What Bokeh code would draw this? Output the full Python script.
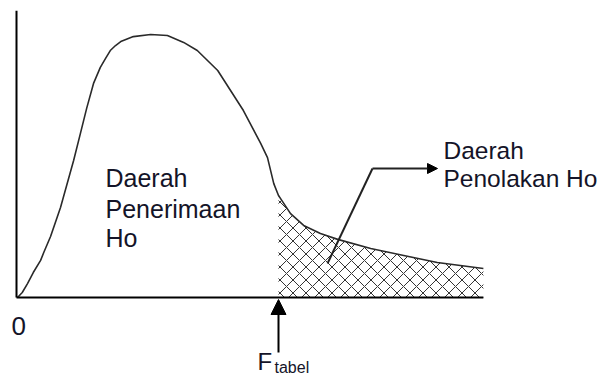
from bokeh.plotting import figure
from bokeh.models import Range1d, Arrow, NormalHead, ColumnDataSource
from bokeh.core.properties import value
from bokeh.embed import file_html
from bokeh.resources import INLINE

# ---- data (F value, density) ----
f_x = [0.02, 0.11, 0.21, 0.32, 0.46, 0.52, 0.65, 0.84, 1.09, 1.22, 1.34, 1.47,
       1.60, 1.70, 1.79, 1.89, 1.99, 2.23, 2.56, 2.88, 3.19, 3.45, 3.84, 4.33,
       4.66, 4.79, 4.91, 5.00, 5.04, 5.23, 5.48, 5.80, 6.13, 6.76, 7.39, 8.03,
       8.91]
f_y = [0.000, 0.019, 0.053, 0.095, 0.141, 0.171, 0.232, 0.342, 0.521, 0.624,
       0.720, 0.814, 0.875, 0.909, 0.939, 0.958, 0.973, 0.992, 1.000, 0.996,
       0.970, 0.939, 0.863, 0.711, 0.586, 0.532, 0.433, 0.388, 0.376, 0.319,
       0.274, 0.243, 0.221, 0.186, 0.160, 0.133, 0.110]
f_tabel = 5.0
axis_top = 1.09
labels_accept = ["Daerah", "Penerimaan", "Ho"]
labels_reject = ["Daerah", "Penolakan Ho"]
zero_label = "0"
f_label = ["F", "tabel"]

# ---- layout helpers (pixel scale of the drawing) ----
PXX, PXY = 52.4, 263.0
OX, OY = 16.0, 297.0  # pixel position of the data origin


def px(xp, yp):
    """pixel -> data coords (for label placement only)"""
    return ((xp - OX) / PXX, (OY - yp) / PXY)


W, H = 603, 376
p = figure(width=W, height=H, output_backend="svg", toolbar_location=None,
           x_range=Range1d(-OX / PXX, (W - OX) / PXX),
           y_range=Range1d(-(H - OY) / PXY, OY / PXY),
           x_axis_type=None, y_axis_type=None, min_border=0,
           outline_line_color=None, background_fill_color="white")
p.xgrid.visible = False
p.ygrid.visible = False

# hatched rejection region
tx = [x for x in f_x if x >= f_tabel]
ty = [y for x, y in zip(f_x, f_y) if x >= f_tabel]
p.varea(x=tx, y1=[0] * len(tx), y2=ty, fill_color=None, fill_alpha=0,
        hatch_pattern="diagonal_cross", hatch_scale=13, hatch_weight=1,
        hatch_color="#333333")

# density curve
p.line(f_x, f_y, line_color="#2a2a2a", line_width=1.6, line_join="round")

# axes
p.line([0, 0], [0, axis_top], line_color="black", line_width=2)
p.line([0, f_x[-1]], [0, 0], line_color="black", line_width=2)

# F tabel arrow
ys, ye = px(0, 352)[1], px(0, 299)[1]
p.add_layout(Arrow(end=NormalHead(size=15, fill_color="black", line_color="black"),
                   x_start=f_tabel, y_start=ys, x_end=f_tabel, y_end=ye,
                   line_color="black", line_width=2))

# pointer arrow to rejection label
a0, a1, a2 = px(327, 263), px(372, 168), px(437, 168)
p.line([a0[0], a1[0]], [a0[1], a1[1]], line_color="#222222", line_width=2)
p.add_layout(Arrow(end=NormalHead(size=10, fill_color="black", line_color="black"),
                   x_start=a1[0], y_start=a1[1], x_end=a2[0], y_end=a2[1],
                   line_color="#222222", line_width=2))

font = value("Liberation Sans")
tc = "#141428"


def put(texts, xs, ys_px, size):
    # empirical shift: the rendered baseline sits ~0.42 em below the anchor
    sh = 0.42 * size
    ys = [px(0, yp - sh)[1] for yp in ys_px]
    src = ColumnDataSource(dict(x=xs, y=ys, t=texts))
    p.text(x="x", y="y", text="t", source=src, text_font=font,
           text_font_size=f"{size}px", text_color=tc,
           text_baseline="alphabetic", text_align="left")


put(labels_accept, [px(105, 0)[0]] * 3, [188, 219, 248], 25)
put(labels_reject, [px(443, 0)[0]] * 2, [160, 188], 24.5)
put([zero_label], [px(11, 0)[0]], [336], 26)
put([f_label[0]], [px(257, 0)[0]], [371], 24)
put([f_label[1]], [px(274, 0)[0]], [374], 16)

open("out.html", "w").write(file_html(p, INLINE))
